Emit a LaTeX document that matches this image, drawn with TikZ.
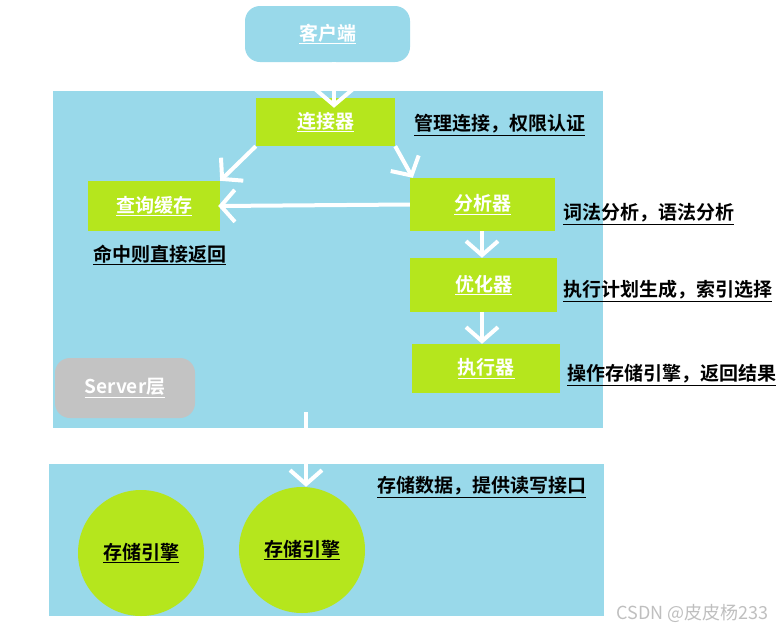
\documentclass[tikz,border=0pt]{standalone}
\usepackage{fontspec}
\setmainfont{Noto Sans CJK SC}[BoldFont={* Bold}]
\usetikzlibrary{arrows.meta,positioning,shapes.geometric}
\definecolor{sky}{HTML}{99D9EA}
\definecolor{lime}{HTML}{B5E61D}
\definecolor{stone}{HTML}{C3C3C3}
\newcommand{\wlab}[1]{\textcolor{white}{\textbf{\underline{#1}}}}
\newcommand{\blab}[1]{\textbf{\underline{#1}}}
\tikzset{
  layer/.style={fill=sky,draw=none,inner sep=0pt},
  mod/.style={fill=lime,draw=none,inner sep=0pt},
  pill/.style={draw=none,inner sep=0pt,rounded corners=15pt},
  eng/.style={mod,ellipse,minimum width=126pt,minimum height=126pt},
  note/.style={anchor=west,inner sep=0pt},
  ar/.style={-{Straight Barb[length=14pt,width=32pt]},line width=4pt,draw=white},
}
\begin{document}
\begin{tikzpicture}[x=1pt,y=-1pt,font=\fontsize{19}{21}\selectfont]
\useasboundingbox (0,0) rectangle (784,635);
% layers
\node[layer,minimum width=550pt,minimum height=337pt] (server) at (328,259.5) {};
\node[layer,minimum width=555pt,minimum height=152pt] (storage) at (326.5,540) {};
\node[pill,fill=sky,minimum width=165pt,minimum height=56pt] (client) at (327.5,34) {\wlab{客户端}};
\node[pill,fill=stone,minimum width=140pt,minimum height=60pt] (tag) at (125,388) {\wlab{Server层}};
% modules
\node[mod,minimum width=139pt,minimum height=48pt] (conn) at (325.5,122) {\wlab{连接器}};
\node[mod,minimum width=132pt,minimum height=50pt] (cache) at (154,206) {\wlab{查询缓存}};
\node[mod,minimum width=145pt,minimum height=53pt] (parser) at (482.5,204.5) {\wlab{分析器}};
\node[mod,minimum width=147pt,minimum height=54pt] (optim) at (483.5,285) {\wlab{优化器}};
\node[mod,minimum width=148pt,minimum height=49pt] (exec) at (486,368.5) {\wlab{执行器}};
\node[eng] (eng1) at (141,553) {\blab{存储引擎}};
\node[eng] (eng2) at (302,550) {\blab{存储引擎}};
% notes
\node[note] (connnote) at (414,125) {\blab{管理连接，权限认证}};
\node[note] (cachenote) at (93,255) {\blab{命中则直接返回}};
\node[note] (parsenote) at (563,214) {\blab{词法分析，语法分析}};
\node[note] (optnote) at (563,291) {\blab{执行计划生成，索引选择}};
\node[note] (execnote) at (567,375) {\blab{操作存储引擎，返回结果}};
\node[note] (storenote) at (377,487) {\blab{存储数据，提供读写接口}};
\node[anchor=east,inner sep=0pt,text=gray!50,font=\fontsize{18}{20}\selectfont] (mark) at (769,613) {CSDN @皮皮杨233};
% arrows
\draw[ar,-{Straight Barb[length=17pt,width=40pt]}] ([xshift=6.5pt]client.south) -- ([xshift=8.5pt,yshift=-10pt]conn.north);
\draw[ar] (conn.south west) -- (cache.north east);
\draw[ar] (conn.south east) -- ([xshift=3pt]parser.north west);
\draw[ar] (parser.west) -- ([xshift=-2pt]cache.east);
\draw[ar] ([xshift=-0.5pt]parser.south) -- ([xshift=-1.5pt]optim.north);
\draw[ar] ([xshift=-1.5pt]optim.south) -- ([xshift=-1.5pt]optim.south |- exec.north);
\coordinate (drop) at (306,412);
\draw[ar] (drop) -- (drop |- eng2.north);
\end{tikzpicture}
\end{document}
